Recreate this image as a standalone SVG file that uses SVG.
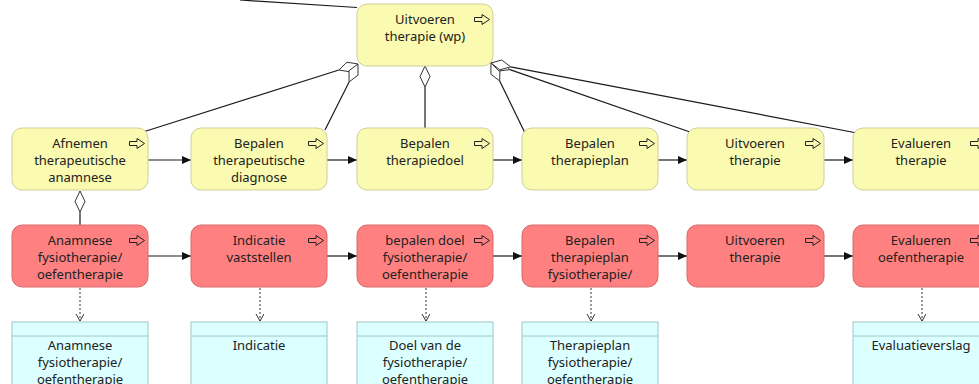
<svg xmlns="http://www.w3.org/2000/svg" width="979" height="384" viewBox="0 0 979 384">
<style>
  .fn { fill: #FAFAB0; stroke: #CFCF98; stroke-width: 1; }
  .rn { fill: #FF8080; stroke: #D86868; stroke-width: 1; }
  .dn { fill: #DCFFFF; stroke: #9EC6C6; stroke-width: 1; }
  .t { font-family: "Noto Sans", "Open Sans", sans-serif; font-size: 13px; fill: #222; text-anchor: middle; }
  .ln { stroke: #1a1a1a; stroke-width: 1.2; fill: none; }
  .dia { fill: #fff; stroke: #333; stroke-width: 1; }
  .dot { stroke: #333; stroke-width: 1; stroke-dasharray: 2 2; fill: none; }
  .ic { fill: none; stroke: #222; stroke-width: 1; }
</style>
<defs>
  <marker id="arr" markerUnits="userSpaceOnUse" markerWidth="10" markerHeight="10" refX="9" refY="4" orient="auto">
    <path d="M0,0 L9,4 L0,8 Z" fill="#111"/>
  </marker>
  <marker id="open" markerUnits="userSpaceOnUse" markerWidth="10" markerHeight="10" refX="7" refY="4" orient="auto">
    <path d="M0,0 L7,4 L0,8" fill="none" stroke="#333" stroke-width="1"/>
  </marker>
  <path id="icon" class="ic" d="M0.5,3.5 H8 V0.5 L15.5,5.5 L8,10.5 V7.5 H0.5 Z"/>
</defs>

<g id="connectors">
  <line class="ln" x1="240" y1="0" x2="357" y2="7.5"/>
  <!-- aggregation to top node -->
  <line class="ln" x1="338.9" y1="70" x2="143" y2="132"/>
  <polygon class="dia" points="358,64 350,71.8 338.9,70 347,62.2"/>
  <line class="ln" x1="349.1" y1="81.9" x2="325" y2="130"/>
  <polygon class="dia" points="358,64 358,75.2 349.1,81.9 349,70.7"/>
  <line class="ln" x1="425" y1="87" x2="425" y2="128"/>
  <polygon class="dia" points="425,66 430,76.5 425,87 420,76.5"/>
  <line class="ln" x1="499.7" y1="81" x2="525" y2="133"/>
  <polygon class="dia" points="491,63 499.9,69.8 499.7,81 490.9,74.2"/>
  <line class="ln" x1="509.9" y1="69.6" x2="690" y2="132"/>
  <polygon class="dia" points="491,63 498.9,71 509.9,69.6 502.1,61.6"/>
  <line class="ln" x1="510.6" y1="66.8" x2="857" y2="133"/>
  <polygon class="dia" points="491,63 499.9,69.8 510.6,66.8 501.7,60"/>
  <!-- row1 to row2 aggregation -->
  <line class="ln" x1="80" y1="212" x2="80" y2="225"/>
  <polygon class="dia" points="80,191 85,201.5 80,212 75,201.5"/>
  <!-- row 1 sequence -->
  <line class="ln" x1="148" y1="160" x2="191" y2="160" marker-end="url(#arr)"/>
  <line class="ln" x1="327" y1="160" x2="357" y2="160" marker-end="url(#arr)"/>
  <line class="ln" x1="493" y1="160" x2="522" y2="160" marker-end="url(#arr)"/>
  <line class="ln" x1="658" y1="160" x2="687" y2="160" marker-end="url(#arr)"/>
  <line class="ln" x1="824" y1="160" x2="853" y2="160" marker-end="url(#arr)"/>
  <!-- row 2 sequence -->
  <line class="ln" x1="148" y1="256" x2="191" y2="256" marker-end="url(#arr)"/>
  <line class="ln" x1="327" y1="256" x2="357" y2="256" marker-end="url(#arr)"/>
  <line class="ln" x1="493" y1="256" x2="522" y2="256" marker-end="url(#arr)"/>
  <line class="ln" x1="658" y1="256" x2="687" y2="256" marker-end="url(#arr)"/>
  <line class="ln" x1="824" y1="256" x2="853" y2="256" marker-end="url(#arr)"/>
  <!-- outputs -->
  <line class="dot" x1="80" y1="288" x2="80" y2="321" marker-end="url(#open)"/>
  <line class="dot" x1="260" y1="288" x2="260" y2="321" marker-end="url(#open)"/>
  <line class="dot" x1="426" y1="288" x2="426" y2="321" marker-end="url(#open)"/>
  <line class="dot" x1="591" y1="288" x2="591" y2="321" marker-end="url(#open)"/>
  <line class="dot" x1="922" y1="288" x2="922" y2="321" marker-end="url(#open)"/>
</g>

<g id="n-top">
  <rect class="fn" x="357" y="4" width="136" height="62" rx="10"/>
  <text class="t" x="425" y="24">Uitvoeren</text>
  <text class="t" x="425" y="41">therapie (wp)</text>
  <use href="#icon" x="474" y="14"/>
</g>

<g id="n-r1-1">
  <rect class="fn" x="12" y="128" width="136" height="62" rx="10"/>
  <text class="t" x="80" y="148">Afnemen</text>
  <text class="t" x="80" y="165">therapeutische</text>
  <text class="t" x="80" y="182">anamnese</text>
  <use href="#icon" x="129" y="138"/>
</g>
<g id="n-r1-2">
  <rect class="fn" x="191" y="128" width="136" height="62" rx="10"/>
  <text class="t" x="259" y="148">Bepalen</text>
  <text class="t" x="259" y="165">therapeutische</text>
  <text class="t" x="259" y="182">diagnose</text>
  <use href="#icon" x="308" y="138"/>
</g>
<g id="n-r1-3">
  <rect class="fn" x="357" y="128" width="136" height="62" rx="10"/>
  <text class="t" x="425" y="148">Bepalen</text>
  <text class="t" x="425" y="165">therapiedoel</text>
  <use href="#icon" x="474" y="138"/>
</g>
<g id="n-r1-4">
  <rect class="fn" x="522" y="128" width="136" height="62" rx="10"/>
  <text class="t" x="590" y="148">Bepalen</text>
  <text class="t" x="590" y="165">therapieplan</text>
  <use href="#icon" x="639" y="138"/>
</g>
<g id="n-r1-5">
  <rect class="fn" x="687" y="128" width="137" height="62" rx="10"/>
  <text class="t" x="755" y="148">Uitvoeren</text>
  <text class="t" x="755" y="165">therapie</text>
  <use href="#icon" x="805" y="138"/>
</g>
<g id="n-r1-6">
  <rect class="fn" x="853" y="128" width="137" height="62" rx="10"/>
  <text class="t" x="921" y="148">Evalueren</text>
  <text class="t" x="921" y="165">therapie</text>
  <use href="#icon" x="970" y="138"/>
</g>

<g id="n-r2-1">
  <rect class="rn" x="12" y="225" width="136" height="62" rx="10"/>
  <text class="t" x="80" y="245">Anamnese</text>
  <text class="t" x="80" y="262">fysiotherapie/</text>
  <text class="t" x="80" y="279">oefentherapie</text>
  <use href="#icon" x="129" y="235"/>
</g>
<g id="n-r2-2">
  <rect class="rn" x="191" y="225" width="136" height="62" rx="10"/>
  <text class="t" x="259" y="245">Indicatie</text>
  <text class="t" x="259" y="262">vaststellen</text>
  <use href="#icon" x="308" y="235"/>
</g>
<g id="n-r2-3">
  <rect class="rn" x="357" y="225" width="136" height="62" rx="10"/>
  <text class="t" x="425" y="245">bepalen doel</text>
  <text class="t" x="425" y="262">fysiotherapie/</text>
  <text class="t" x="425" y="279">oefentherapie</text>
  <use href="#icon" x="474" y="235"/>
</g>
<g id="n-r2-4">
  <rect class="rn" x="522" y="225" width="136" height="62" rx="10"/>
  <text class="t" x="590" y="245">Bepalen</text>
  <text class="t" x="590" y="262">therapieplan</text>
  <text class="t" x="590" y="279">fysiotherapie/</text>
  <use href="#icon" x="639" y="235"/>
</g>
<g id="n-r2-5">
  <rect class="rn" x="687" y="225" width="137" height="62" rx="10"/>
  <text class="t" x="755" y="245">Uitvoeren</text>
  <text class="t" x="755" y="262">therapie</text>
  <use href="#icon" x="805" y="235"/>
</g>
<g id="n-r2-6">
  <rect class="rn" x="853" y="225" width="137" height="62" rx="10"/>
  <text class="t" x="921" y="245">Evalueren</text>
  <text class="t" x="921" y="262">oefentherapie</text>
  <use href="#icon" x="970" y="235"/>
</g>

<g id="d-1">
  <rect class="dn" x="12" y="322" width="136" height="80"/>
  <line class="dn" x1="12" y1="336" x2="148" y2="336"/>
  <text class="t" x="80" y="350">Anamnese</text>
  <text class="t" x="80" y="367">fysiotherapie/</text>
  <text class="t" x="80" y="384">oefentherapie</text>
</g>
<g id="d-2">
  <rect class="dn" x="191" y="322" width="136" height="80"/>
  <line class="dn" x1="191" y1="336" x2="327" y2="336"/>
  <text class="t" x="259" y="350">Indicatie</text>
</g>
<g id="d-3">
  <rect class="dn" x="357" y="322" width="136" height="80"/>
  <line class="dn" x1="357" y1="336" x2="493" y2="336"/>
  <text class="t" x="425" y="350">Doel van de</text>
  <text class="t" x="425" y="367">fysiotherapie/</text>
  <text class="t" x="425" y="384">oefentherapie</text>
</g>
<g id="d-4">
  <rect class="dn" x="522" y="322" width="136" height="80"/>
  <line class="dn" x1="522" y1="336" x2="658" y2="336"/>
  <text class="t" x="590" y="350">Therapieplan</text>
  <text class="t" x="590" y="367">fysiotherapie/</text>
  <text class="t" x="590" y="384">oefentherapie</text>
</g>
<g id="d-6">
  <rect class="dn" x="853" y="322" width="137" height="80"/>
  <line class="dn" x1="853" y1="336" x2="990" y2="336"/>
  <text class="t" x="921" y="350">Evaluatieverslag</text>
</g>
</svg>
